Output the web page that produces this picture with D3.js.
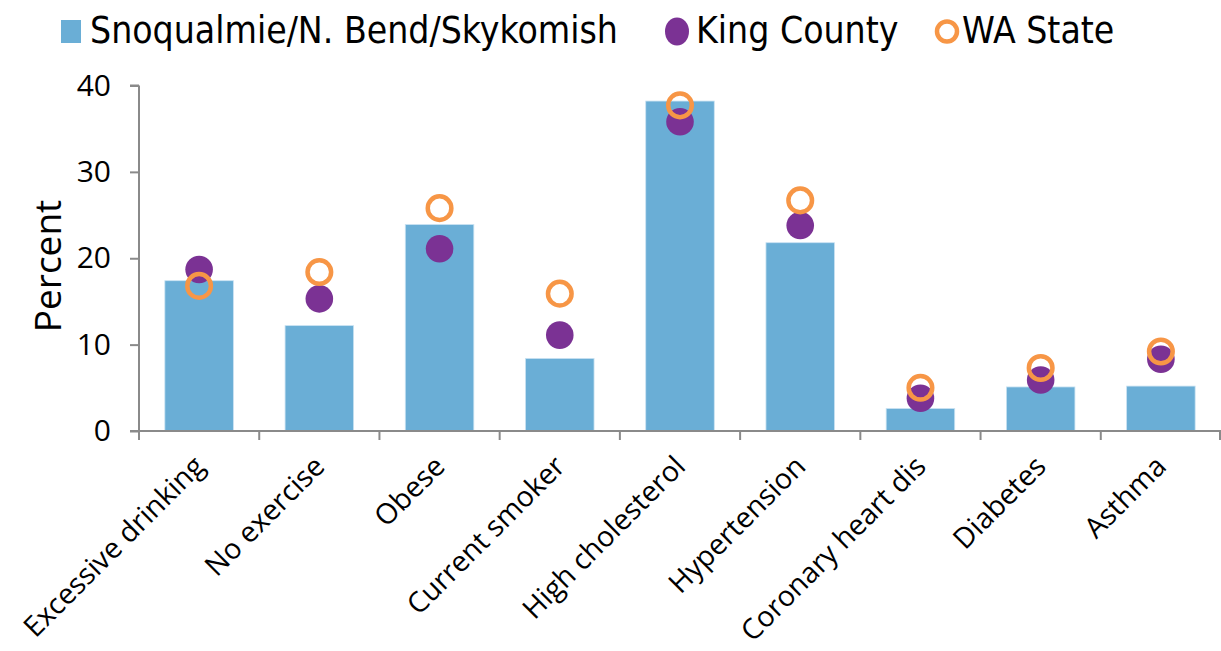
<!DOCTYPE html>
<html>
<head>
<meta charset="utf-8">
<script src="https://cdn.jsdelivr.net/npm/d3@7"></script>
<style>
  body { margin: 0; background: #fff; }
</style>
</head>
<body>
<script>
// chart data
const categories = ["Excessive drinking", "No exercise", "Obese", "Current smoker",
  "High cholesterol", "Hypertension", "Coronary heart dis", "Diabetes", "Asthma"];
const snoqualmie = [17.4, 12.2, 23.9, 8.4, 38.2, 21.8, 2.6, 5.1, 5.2];
const kingCounty = [18.7, 15.3, 21.1, 11.1, 35.8, 23.8, 3.8, 5.9, 8.3];
const waState = [16.8, 18.4, 25.8, 15.9, 37.7, 26.7, 5.0, 7.3, 9.2];
const yTicks = [0, 10, 20, 30, 40];
const seriesNames = ["Snoqualmie/N. Bend/Skykomish", "King County", "WA State"];

const width = 1221, height = 651;
const margin = { top: 86, right: 0, bottom: 220, left: 139 };

const svg = d3.select("body").append("svg")
    .attr("width", width)
    .attr("height", height)
    .attr("font-family", "Open Sans");

const x = d3.scaleBand()
    .domain(categories)
    .range([margin.left, width - margin.right])
    .paddingInner(0.43)
    .paddingOuter(0.215);

const xOuter = d3.scaleBand()
    .domain(categories)
    .range([margin.left, width - margin.right]);

const y = d3.scaleLinear()
    .domain([0, 40])
    .range([431, 85.5]);

// bars
svg.selectAll("rect.bar")
    .data(snoqualmie)
    .enter().append("rect")
    .attr("class", "bar")
    .attr("x", (d, i) => x(categories[i]))
    .attr("y", d => y(d))
    .attr("width", x.bandwidth())
    .attr("height", d => y(0) - y(d))
    .attr("fill", "#6aaed6")
    .attr("stroke", "#c9e2f2")
    .attr("stroke-width", 0.8);

// axes
const axisColor = "#8a8a8a";
const yAxis = svg.append("g")
    .attr("transform", `translate(${margin.left},0)`)
    .call(d3.axisLeft(y).tickValues(yTicks).tickSize(9).tickPadding(19));
yAxis.selectAll("line, path").attr("stroke", axisColor).attr("stroke-width", 2);
yAxis.select("path").attr("d", `M0,${y(40)}H-9M0,${y(40)}V${y(0)}`);
yAxis.selectAll("text").attr("font-size", 30).attr("font-family", "Open Sans").attr("fill", "#000");

const xAxisG = svg.append("g").attr("transform", `translate(0,${y(0)})`);
xAxisG.append("line")
    .attr("x1", margin.left - 9).attr("x2", width)
    .attr("y1", 0).attr("y2", 0)
    .attr("stroke", axisColor).attr("stroke-width", 2);
const boundaries = categories.map(c => xOuter(c)).concat([width - 1]);
xAxisG.selectAll("line.tick")
    .data(boundaries)
    .enter().append("line")
    .attr("class", "tick")
    .attr("x1", d => d).attr("x2", d => d)
    .attr("y1", 0).attr("y2", 9)
    .attr("stroke", axisColor).attr("stroke-width", 2);

xAxisG.selectAll("text.cat")
    .data(categories)
    .enter().append("text")
    .attr("class", "cat")
    .attr("transform", d => `translate(${xOuter(d) + xOuter.bandwidth() / 2},${30}) rotate(-45)`)
    .attr("text-anchor", "end")
    .attr("dy", "0.35em")
    .attr("font-size", 28.5)
    .text(d => d);

// y title
svg.append("text")
    .attr("transform", `translate(61,266) rotate(-90)`)
    .attr("text-anchor", "middle")
    .attr("font-size", 37)
    .text("Percent");

// points
const cx = i => x(categories[i]) + x.bandwidth() / 2;
svg.selectAll("circle.king")
    .data(kingCounty)
    .enter().append("circle")
    .attr("class", "king")
    .attr("cx", (d, i) => cx(i))
    .attr("cy", d => y(d))
    .attr("r", 13.8)
    .attr("fill", "#7b3294");

svg.selectAll("circle.wa")
    .data(waState)
    .enter().append("circle")
    .attr("class", "wa")
    .attr("cx", (d, i) => cx(i))
    .attr("cy", d => y(d))
    .attr("r", 11.8)
    .attr("fill", "none")
    .attr("stroke", "#f79646")
    .attr("stroke-width", 4.5);

// legend
const legend = svg.append("g").attr("font-family", "DejaVu Sans Condensed").attr("font-size", 37);
legend.append("rect")
    .attr("x", 61).attr("y", 20).attr("width", 20).attr("height", 23)
    .attr("fill", "#6aaed6");
legend.append("text").attr("x", 90).attr("y", 43).text(seriesNames[0]);
legend.append("ellipse")
    .attr("cx", 677).attr("cy", 31.5).attr("rx", 12).attr("ry", 14)
    .attr("fill", "#7b3294");
legend.append("text").attr("x", 696).attr("y", 43).text(seriesNames[1]);
legend.append("circle")
    .attr("cx", 947).attr("cy", 31.5).attr("r", 10)
    .attr("fill", "none").attr("stroke", "#f79646").attr("stroke-width", 4.5);
legend.append("text").attr("x", 962).attr("y", 43).text(seriesNames[2]);
</script>
</body>
</html>
